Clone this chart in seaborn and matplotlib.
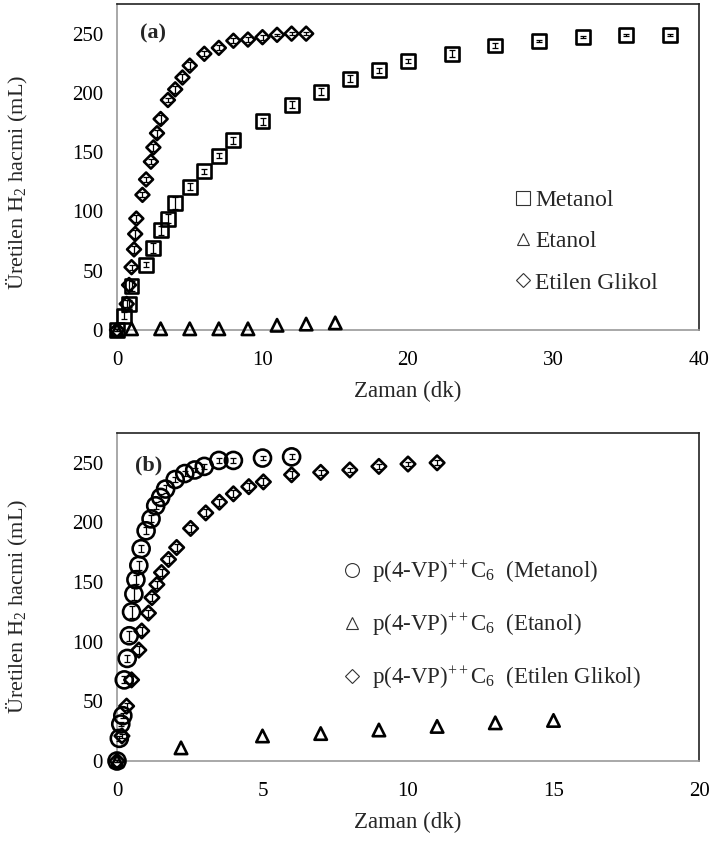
import numpy as np
import pandas as pd
import matplotlib
matplotlib.use("Agg")
import matplotlib.pyplot as plt
from matplotlib.lines import Line2D
import seaborn as sns

# ---------------- Data: panel (a) ----------------
a_met_t = [0, 0.5, 0.83, 1.0, 2.0, 2.5, 3.0, 3.5, 4.0, 5.0, 6.0, 7.0, 8.0, 10, 12, 14, 16, 18, 20, 23, 26, 29, 32, 35, 38]
a_met_v = [0, 12, 22, 37, 55, 69, 84, 94, 107, 121, 134, 147, 160, 176, 190, 201, 212, 219, 227, 233, 240, 244, 247, 249, 249]
a_met_e = [1, 3, 3, 4, 2, 4, 4, 4, 5, 3, 2, 2, 3, 3, 3, 3, 3, 2, 2, 3, 2, 1, 1, 1, 1]

a_eta_t = [0, 1, 3, 5, 7, 9, 11, 13, 15]
a_eta_v = [0, 1, 1, 1, 1, 1, 4, 5, 6]

a_eg_t = [0, 0.67, 0.83, 1.0, 1.17, 1.25, 1.33, 1.75, 2.0, 2.33, 2.5, 2.75, 3.0, 3.5, 4.0, 4.5, 5.0, 6.0, 7.0, 8.0, 9.0, 10, 11, 12, 13]
a_eg_v = [0, 22, 38, 53, 68, 81, 94, 114, 127, 142, 154, 166, 178, 194, 203, 213, 223, 233, 238, 244, 245, 247, 249, 250, 250]
a_eg_e = [1, 3, 4, 2, 3, 3, 3, 2, 2, 2, 3, 3, 3, 2, 3, 3, 3, 2, 2, 2, 2, 2, 1, 1, 1]

# ---------------- Data: panel (b) ----------------
b_met_t = [0, 0.08, 0.13, 0.2, 0.25, 0.35, 0.42, 0.5, 0.58, 0.65, 0.75, 0.83, 1.0, 1.17, 1.33, 1.5, 1.67, 2.0, 2.33, 2.67, 3.0, 3.5, 4.0, 5.0, 6.0]
b_met_v = [0, 19, 31, 38, 68, 86, 105, 125, 140, 152, 164, 178, 193, 203, 214, 221, 228, 236, 241, 244, 247, 252, 252, 254, 255]
b_met_e = [1, 2, 2, 2, 3, 3, 4, 5, 5, 4, 4, 3, 3, 3, 3, 3, 3, 2, 2, 2, 2, 2, 2, 2, 2]

b_eta_t = [0, 2.2, 5, 7, 9, 11, 13, 15]
b_eta_v = [0, 11, 21, 23, 26, 29, 32, 34]

b_eg_t = [0, 0.17, 0.33, 0.5, 0.75, 0.85, 1.08, 1.2, 1.37, 1.53, 1.77, 2.05, 2.53, 3.05, 3.52, 4.0, 4.53, 5.03, 6.0, 7.0, 8.0, 9.0, 10.0, 11.0]
b_eg_v = [0, 21, 46, 68, 93, 109, 124, 137, 148, 158, 169, 179, 195, 208, 217, 224, 230, 234, 240, 242, 244, 247, 249, 250]
b_eg_e = [1, 2, 3, 3, 3, 3, 3, 3, 3, 3, 3, 3, 3, 3, 3, 3, 3, 3, 3, 2, 2, 2, 2, 2]

a_legend = ["Metanol", "Etanol", "Etilen Glikol"]
b_legend = [r"p(4-VP)$^{\mathrm{++}}$C$_{\mathrm{6}}$  (Metanol)",
            r"p(4-VP)$^{\mathrm{++}}$C$_{\mathrm{6}}$  (Etanol)",
            r"p(4-VP)$^{\mathrm{++}}$C$_{\mathrm{6}}$  (Etilen Glikol)"]
xlabel = "Zaman (dk)"
ylabel = r"Üretilen H$_{\mathrm{2}}$ hacmi (mL)"

# ---------------- Style ----------------
sns.set_style("white")
plt.rcParams["font.family"] = ["Liberation Serif", "DejaVu Serif"]
plt.rcParams["mathtext.fontset"] = "custom"
plt.rcParams["mathtext.rm"] = "Liberation Serif"
plt.rcParams["mathtext.it"] = "Liberation Serif:italic"
plt.rcParams["mathtext.bf"] = "Liberation Serif:bold"

fig = plt.figure(figsize=(7.13, 8.41), dpi=100)
W, H = 713, 841
ax_a = fig.add_axes([117 / W, 1 - 330 / H, 582 / W, 326 / H])
ax_b = fig.add_axes([117 / W, 1 - 761 / H, 582 / W, 328 / H])

EW = 1.9


def series(ax, t, v, marker, s, err=None):
    if err is not None:
        ax.errorbar(t, v, yerr=err, fmt="none", ecolor="black", elinewidth=0.9,
                    capsize=2.2, capthick=0.9, clip_on=False, zorder=3)
    sns.scatterplot(x=t, y=v, ax=ax, marker=marker, s=s, facecolors="none",
                    edgecolor="black", linewidth=EW, clip_on=False, zorder=4,
                    legend=False)


# panel (a)
series(ax_a, a_met_t, a_met_v, "s", 100, a_met_e)
series(ax_a, a_eta_t, a_eta_v, "^", 80)
series(ax_a, a_eg_t, a_eg_v, "D", 50, a_eg_e)

# panel (b)
series(ax_b, b_met_t, b_met_v, "o", 150, b_met_e)
series(ax_b, b_eta_t, b_eta_v, "^", 80)
series(ax_b, b_eg_t, b_eg_v, "D", 55, b_eg_e)

for ax, xmax, xstep, ly in [(ax_a, 40, 10, 0.454), (ax_b, 20, 5, 0.47)]:
    ax.set_xlim(0, xmax)
    ax.set_ylim(0, 275)
    ax.set_xticks(np.arange(0, xmax + 1, xstep))
    ax.set_yticks(np.arange(0, 251, 50))
    ax.tick_params(axis="both", which="major", labelsize=15, length=5, width=1,
                   color="#999999", direction="out", labelcolor="black")
    ax.tick_params(axis="x", pad=10)
    ax.tick_params(axis="y", pad=5)
    for sp in ["left", "bottom"]:
        ax.spines[sp].set_color("#999999")
        ax.spines[sp].set_linewidth(1.2)
    for sp in ["top", "right"]:
        ax.spines[sp].set_color("#222222")
        ax.spines[sp].set_linewidth(1.2)
    ax.set_xlabel(xlabel, fontsize=16.5, labelpad=8)
    ax.set_ylabel(ylabel, fontsize=16)
    ax.yaxis.set_label_coords(-0.15, ly)

ax_a.text(0.04, 0.911, "(a)", transform=ax_a.transAxes, fontsize=16,
          fontweight="bold", ha="left", va="center")
ax_b.text(0.031, 0.902, "(b)", transform=ax_b.transAxes, fontsize=16,
          fontweight="bold", ha="left", va="center")


def handles(markers):
    return [Line2D([], [], linestyle="none", marker=m, markersize=ms,
                   markerfacecolor="none", markeredgecolor="#333333",
                   markeredgewidth=0.8) for m, ms in markers]


ax_a.legend(handles(([("s", 10), ("^", 9), ("D", 7)])), a_legend, loc="upper left",
            bbox_to_anchor=(0.668, 0.459), frameon=False, fontsize=17,
            handlelength=0.7, handletextpad=0.14, labelspacing=0.83,
            borderaxespad=0)
ax_b.legend(handles(([("o", 10), ("^", 9), ("D", 7)])), b_legend, loc="upper left",
            bbox_to_anchor=(0.374, 0.644), frameon=False, fontsize=16.5,
            handlelength=0.7, handletextpad=0.52, labelspacing=1.14,
            borderaxespad=0)

fig.savefig("out.png", dpi=100)
